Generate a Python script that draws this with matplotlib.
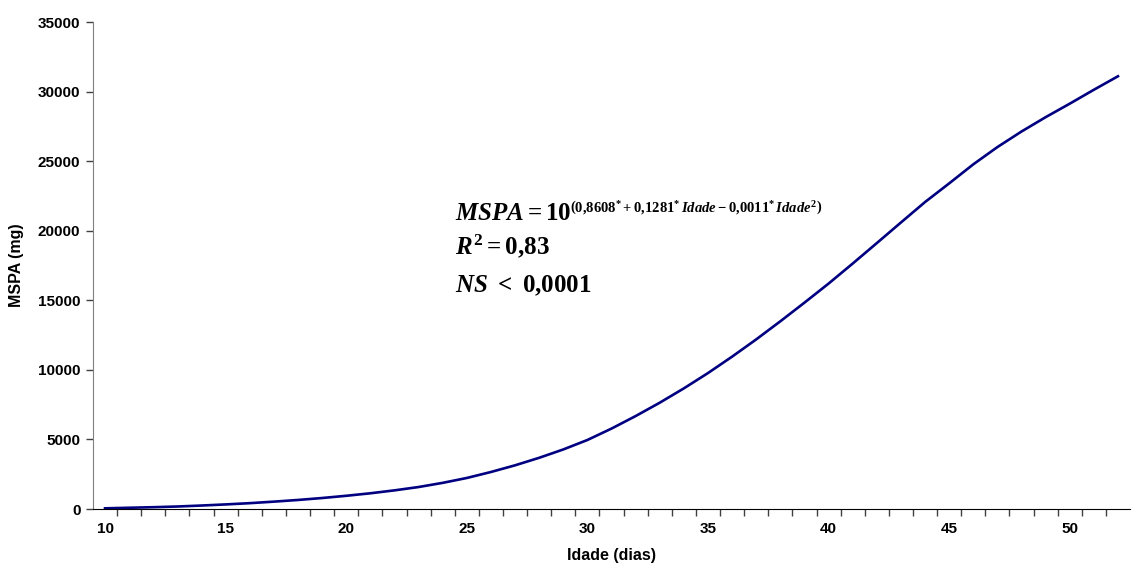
import matplotlib
matplotlib.use('Agg')
import matplotlib.pyplot as plt
from matplotlib.ticker import FixedLocator

# idade (dias) e MSPA (mg)
idade = list(range(10, 53))
mspa = [50, 90, 130, 180, 250, 330, 420, 530, 650, 790,
        950, 1130, 1340, 1580, 1880, 2230, 2660, 3140, 3680, 4280,
        4960, 5780, 6680, 7640, 8670, 9770, 10950, 12190, 13490, 14830,
        16200, 17640, 19110, 20590, 22060, 23400, 24770, 26010, 27130, 28160,
        29130, 30130, 31100]
xtick_labels = ['10', '15', '20', '25', '30', '35', '40', '45', '50']
yticks = [0, 5000, 10000, 15000, 20000, 25000, 30000, 35000]

plt.rcParams['font.family'] = ['Liberation Sans', 'DejaVu Sans']
plt.rcParams['font.weight'] = 'bold'
plt.rcParams['mathtext.fontset'] = 'custom'
plt.rcParams['mathtext.rm'] = 'Liberation Serif:bold'
plt.rcParams['mathtext.it'] = 'Liberation Serif:italic:bold'
plt.rcParams['mathtext.bf'] = 'Liberation Serif:bold'

fig = plt.figure(figsize=(11.34, 5.70), dpi=100)
ax = fig.add_axes([0.082, 0.107, 0.9145, 0.8544])

pos = [i for i in range(len(idade))]
ax.plot(pos, mspa, color='#000080', linewidth=1.9)

ax.set_xlim(-0.5, len(idade) - 0.5)
ax.set_ylim(0, 35000)

# eixo de categorias: marcas entre categorias, rótulos a cada 5
ax.xaxis.set_major_locator(FixedLocator([idade.index(int(l)) for l in xtick_labels]))
ax.set_xticklabels(xtick_labels)
ax.xaxis.set_minor_locator(FixedLocator([p - 0.5 for p in pos[1:]]))
ax.tick_params(axis='x', which='major', length=0, pad=9, labelsize=11)
ax.tick_params(axis='x', which='minor', length=5, width=1, color='#404040')

ax.set_yticks(yticks)
ax.set_yticklabels([str(v) for v in yticks])
ax.tick_params(axis='y', length=5, width=1, color='#404040', labelsize=11, pad=4)

for s in ['top', 'right']:
    ax.spines[s].set_visible(False)
ax.spines['left'].set_color('#808080')
ax.spines['bottom'].set_color('black')

ax.set_xlabel('Idade (dias)', fontsize=11.5, fontweight='bold', labelpad=9)
ax.set_ylabel('MSPA (mg)', fontsize=11.5, fontweight='bold', labelpad=10)

# equação: base e expoente em textos separados (expoente bem pequeno)
t1 = ax.text(0.349, 0.594, r"$MSPA = 10$", transform=ax.transAxes, fontsize=18)
fig.canvas.draw()
bb = t1.get_window_extent()
ax.annotate(r"$\left(0{,}8608^{*}+0{,}1281^{*}\,Idade-0{,}0011^{*}\,Idade^{2}\right)$",
            xy=(bb.x1 - 1, bb.y0 + 13), xycoords='figure pixels', fontsize=10.5)
ax.text(0.349, 0.523, r"$R^{2} = 0{,}83$", transform=ax.transAxes, fontsize=18)
ax.text(0.349, 0.445, r"$NS\ <\ 0{,}0001$", transform=ax.transAxes, fontsize=18)

fig.savefig('out.png', dpi=100)
